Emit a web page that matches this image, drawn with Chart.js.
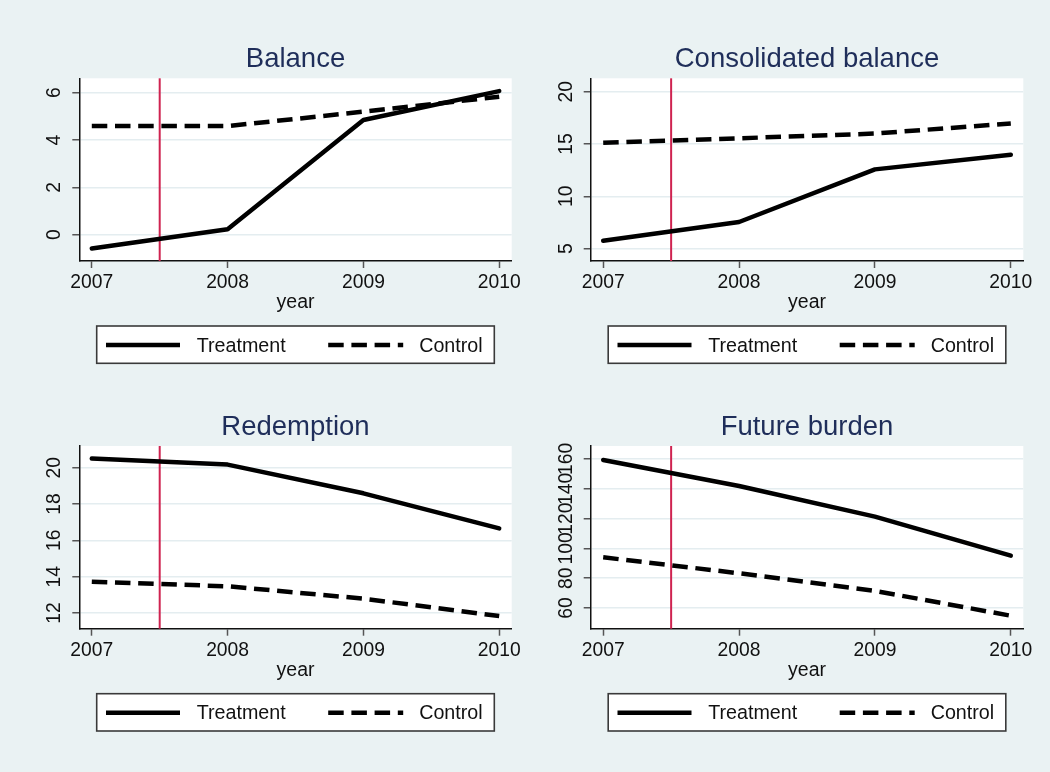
<!DOCTYPE html>
<html><head><meta charset="utf-8">
<script src="https://cdn.jsdelivr.net/npm/chart.js@4.4.1/dist/chart.umd.min.js"></script>
<style>
html,body{margin:0;padding:0;background:#EAF2F3;}
#wrap{position:relative;width:1050px;height:772px;background:#EAF2F3;overflow:hidden;}
#wrap canvas{position:absolute;}
</style></head><body><div id="wrap"></div>
<script>
// ---------------- data ----------------
const years = [2007, 2008, 2009, 2010];
const seriesLabels = ['Treatment', 'Control'];
const panelTitles = ['Balance', 'Consolidated balance', 'Redemption', 'Future burden'];
const xAxisTitle = 'year';
const treatmentStart = 2007.5;

const balanceTreatment = [-0.58, 0.23, 4.85, 6.07];
const balanceControl = [4.59, 4.59, 5.20, 5.83];
const consolidatedTreatment = [5.76, 7.55, 12.58, 13.98];
const consolidatedControl = [15.12, 15.55, 16.00, 16.97];
const redemptionTreatment = [20.50, 20.17, 18.59, 16.66];
const redemptionControl = [13.72, 13.47, 12.79, 11.83];
const burdenTreatment = [159.3, 141.9, 121.3, 95.1];
const burdenControl = [94.0, 83.3, 71.5, 54.8];

const yearTicks = [2007, 2008, 2009, 2010];
const balanceTicks = [0, 2, 4, 6];
const consolidatedTicks = [5, 10, 15, 20];
const redemptionTicks = [12, 14, 16, 18, 20];
const burdenTicks = [60, 80, 100, 120, 140, 160];

const xRange = [2006.908, 2010.092];
const balanceRange = [-1.11, 6.61];
const consolidatedRange = [3.825, 21.28];
const redemptionRange = [11.135, 21.195];
const burdenRange = [46.1, 168.7];

// ---------------- layout / style ----------------
const CW = 525, CH = 386;
const FONT = '"Liberation Sans", Arial, Helvetica, sans-serif';
const panels = [
  {title: panelTitles[0], t: balanceTreatment, c: balanceControl, ticks: balanceTicks, range: balanceRange, cx: 0, cy: 0, pL: 79.3, pR: 511.7, pT: 78.3, pB: 261},
  {title: panelTitles[1], t: consolidatedTreatment, c: consolidatedControl, ticks: consolidatedTicks, range: consolidatedRange, cx: 525, cy: 0, pL: 65.7, pR: 498.3, pT: 78.3, pB: 261},
  {title: panelTitles[2], t: redemptionTreatment, c: redemptionControl, ticks: redemptionTicks, range: redemptionRange, cx: 0, cy: 368, pL: 79.3, pR: 511.7, pT: 78, pB: 260.7},
  {title: panelTitles[3], t: burdenTreatment, c: burdenControl, ticks: burdenTicks, range: burdenRange, cx: 525, cy: 368, pL: 65.7, pR: 498.3, pT: 78, pB: 260.7}
];
const DASH = [15.5, 7.7];
const LW = 4.5;

const decor = {
  id: 'decor',
  beforeDraw(chart) {
    const {ctx, chartArea: a} = chart;
    ctx.save();
    ctx.fillStyle = '#ffffff';
    ctx.fillRect(a.left, a.top, a.right - a.left, a.bottom - a.top);
    ctx.restore();
  },
  beforeDatasetsDraw(chart) {
    const {ctx, chartArea: a} = chart;
    const x = chart.scales.x.getPixelForValue(treatmentStart);
    ctx.save();
    ctx.strokeStyle = '#CF2350';
    ctx.lineWidth = 2;
    ctx.beginPath();
    ctx.moveTo(x, a.top);
    ctx.lineTo(x, a.bottom);
    ctx.stroke();
    ctx.restore();
  },
  afterDraw(chart) {
    const {ctx, chartArea: a} = chart;
    const p = chart.options.plugins.decor;
    const mid = (a.left + a.right) / 2;
    ctx.save();
    // title
    ctx.fillStyle = '#1F2E5A';
    ctx.font = '27.5px ' + FONT;
    ctx.textAlign = 'center';
    ctx.textBaseline = 'alphabetic';
    ctx.fillText(p.title, mid, a.top - 11.2);
    // x tick labels
    ctx.fillStyle = '#111';
    ctx.font = '19.3px ' + FONT;
    const xs = chart.scales.x;
    xs.ticks.forEach(t => {
      ctx.fillText(String(t.value), xs.getPixelForValue(t.value), a.bottom + 27.3);
    });
    // x axis title
    ctx.font = '19.5px ' + FONT;
    ctx.fillText(xAxisTitle, mid, a.bottom + 47.3);
    // y tick labels (rotated)
    ctx.font = '19.3px ' + FONT;
    const ys = chart.scales.y;
    ys.ticks.forEach(t => {
      const y = ys.getPixelForValue(t.value);
      ctx.save();
      ctx.translate(a.left - 24.5, y);
      ctx.rotate(-Math.PI / 2);
      ctx.textAlign = 'center';
      ctx.textBaseline = 'middle';
      ctx.fillText(String(t.value), 0, 0);
      ctx.restore();
    });
    // legend
    const bw = 397.6, bh = 37.3;
    const bx = mid - bw / 2, by = a.bottom + 65;
    ctx.fillStyle = '#ffffff';
    ctx.fillRect(bx, by, bw, bh);
    ctx.strokeStyle = '#3a3a3a';
    ctx.lineWidth = 1.6;
    ctx.strokeRect(bx, by, bw, bh);
    const ds = chart.data.datasets;
    const entries = [{x0: 9.3, x1: 83.3, tx: 100}, {x0: 231.5, x1: 306.5, tx: 322.5}];
    entries.forEach((e, i) => {
      const d = ds[i];
      ctx.save();
      ctx.strokeStyle = d.borderColor;
      ctx.lineWidth = d.borderWidth;
      ctx.lineCap = 'butt';
      ctx.setLineDash(d.borderDash || []);
      ctx.beginPath();
      ctx.moveTo(bx + e.x0, by + 19);
      ctx.lineTo(bx + e.x1, by + 19);
      ctx.stroke();
      ctx.restore();
      ctx.fillStyle = '#111';
      ctx.font = '19.7px ' + FONT;
      ctx.textAlign = 'left';
      ctx.textBaseline = 'alphabetic';
      ctx.fillText(d.label, bx + e.tx, by + 25.7);
    });
    ctx.restore();
  }
};

const wrap = document.getElementById('wrap');
panels.forEach(pn => {
  const cv = document.createElement('canvas');
  cv.width = CW; cv.height = CH;
  cv.style.left = pn.cx + 'px'; cv.style.top = pn.cy + 'px';
  cv.style.width = CW + 'px'; cv.style.height = CH + 'px';
  wrap.appendChild(cv);
  const toPts = arr => years.map((yr, i) => ({x: yr, y: arr[i]}));
  new Chart(cv, {
    type: 'line',
    data: {
      datasets: [
        {label: seriesLabels[0], data: toPts(pn.t), borderColor: '#000', borderWidth: LW, borderCapStyle: 'round', borderJoinStyle: 'round', pointRadius: 0, tension: 0, fill: false},
        {label: seriesLabels[1], data: toPts(pn.c), borderColor: '#000', borderWidth: LW, borderDash: DASH, borderCapStyle: 'butt', borderJoinStyle: 'round', pointRadius: 0, tension: 0, fill: false}
      ]
    },
    options: {
      responsive: false,
      animation: false,
      devicePixelRatio: 1,
      events: [],
      layout: {autoPadding: false, padding: {left: 0, top: pn.pT, right: CW - pn.pR, bottom: 0}},
      plugins: {legend: {display: false}, title: {display: false}, tooltip: {enabled: false}, decor: {title: pn.title}},
      scales: {
        x: {
          type: 'linear', min: xRange[0], max: xRange[1],
          afterBuildTicks: s => { s.ticks = yearTicks.map(v => ({value: v})); },
          afterFit: s => { s.height = CH - pn.pB; },
          ticks: {display: false},
          grid: {drawOnChartArea: false, drawTicks: true, tickLength: 7, tickColor: '#555', tickWidth: 1.5},
          border: {display: true, color: '#111', width: 1.5}
        },
        y: {
          type: 'linear', min: pn.range[0], max: pn.range[1],
          afterBuildTicks: s => { s.ticks = pn.ticks.map(v => ({value: v})); },
          afterFit: s => { s.width = pn.pL; },
          ticks: {display: false},
          grid: {drawOnChartArea: true, color: '#E4EDF0', lineWidth: 1.5, drawTicks: true, tickLength: 7, tickColor: '#555', tickWidth: 1.5},
          border: {display: true, color: '#111', width: 1.5}
        }
      }
    },
    plugins: [decor]
  });
});
</script>
</body></html>
